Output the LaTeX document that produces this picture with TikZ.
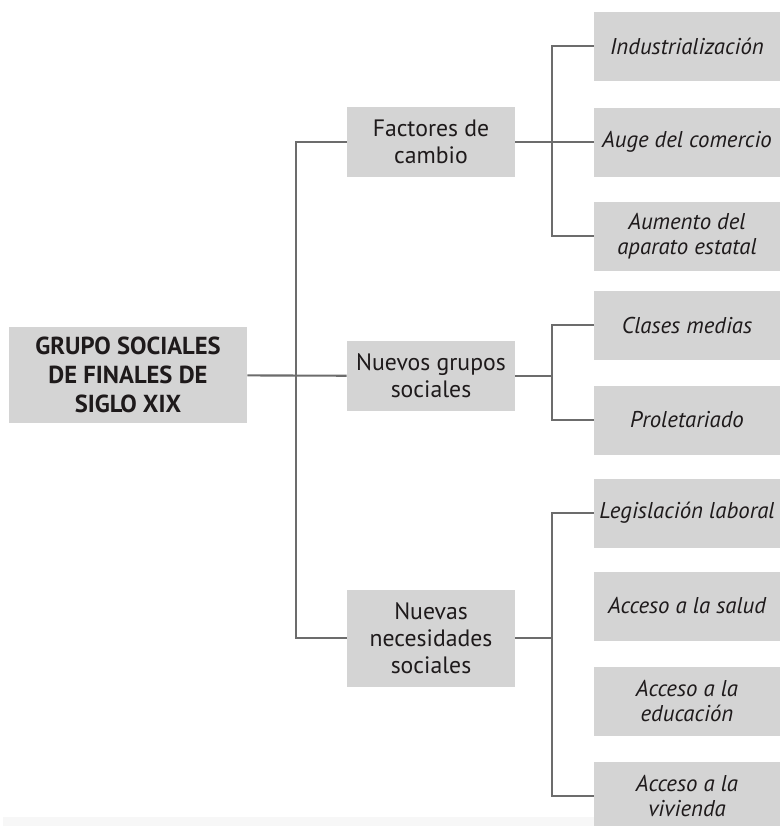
\documentclass[tikz,border=0pt]{standalone}
\usepackage{fontspec}
\setmainfont{PT Sans}
\usepackage{xcolor}
\definecolor{boxfill}{RGB}{212, 212, 212}
\definecolor{linkcolor}{RGB}{108, 108, 108}
\definecolor{textcolor}{RGB}{30, 26, 27}
\definecolor{bandfill}{RGB}{247, 247, 247}
\usetikzlibrary{positioning,calc}

\begin{document}
\begin{tikzpicture}[
  x=0.02cm, y=-0.02cm,
  rootbox/.style={fill=boxfill, text=textcolor, align=center, minimum width=4.76cm, minimum height=1.94cm, inner sep=2pt, font=\fontsize{14}{16.5}\selectfont\bfseries},
  midbox/.style={fill=boxfill, text=textcolor, align=center, minimum width=3.36cm, minimum height=1.4cm, inner sep=2pt, font=\fontsize{13.5}{15.5}\selectfont},
  leafbox/.style={fill=boxfill, text=textcolor, align=center, minimum width=3.72cm, minimum height=1.38cm, inner sep=2pt, font=\fontsize{13}{14.5}\selectfont\itshape},
  link/.style={draw=linkcolor, line width=1.2pt}
]
\useasboundingbox (0,0) rectangle (779,826);

% faint strip at the bottom
\fill[bandfill] (3,817) rectangle (594,826);

% Root
\node[rootbox] (root) at (128, 375) {GRUPO SOCIALES\\DE FINALES DE\\SIGLO XIX};

% Middle level
\node[midbox] (factores) at (431, 142) {Factores de\\cambio};
\node[midbox] (nuevos) at (431, 376) {Nuevos grupos\\sociales};
\node[midbox, minimum height=1.94cm] (necesidades) at (431, 638) {Nuevas\\necesidades\\sociales};

% Leaves: factores
\node[leafbox] (industria) at (687, 46) {Industrialización};
\node[leafbox] (comercio) at (687, 142) {Auge del comercio};
\node[leafbox] (estatal) at (687, 236) {Aumento del\\aparato estatal};

% Leaves: nuevos grupos
\node[leafbox] (clases) at (687, 325) {Clases medias};
\node[leafbox] (proletariado) at (687, 420) {Proletariado};

% Leaves: necesidades
\node[leafbox] (legislacion) at (687, 513) {Legislación laboral};
\node[leafbox] (salud) at (687, 606) {Acceso a la salud};
\node[leafbox] (educacion) at (687, 701) {Acceso a la\\educación};
\node[leafbox] (vivienda) at (687, 796) {Acceso a la\\vivienda};

% Bus coordinates
\coordinate (trunk) at (296, 0);
\coordinate (bus) at (552, 0);

% Connections
\draw[link] (root) -- (nuevos);
\draw[link] (factores.west) -- (factores.west -| trunk) |- (necesidades.west);

\draw[link] (industria.west) -- (industria.west -| bus) |- (estatal.west);
\draw[link] (factores) -- (comercio);

\draw[link] (clases.west) -- (clases.west -| bus) |- (proletariado.west);
\draw[link] (nuevos.east) -- (nuevos.east -| bus);

\draw[link] (legislacion.west) -- (legislacion.west -| bus) |- (vivienda.west);
\draw[link] (necesidades.east) -- (necesidades.east -| bus);

\end{tikzpicture}
\end{document}
